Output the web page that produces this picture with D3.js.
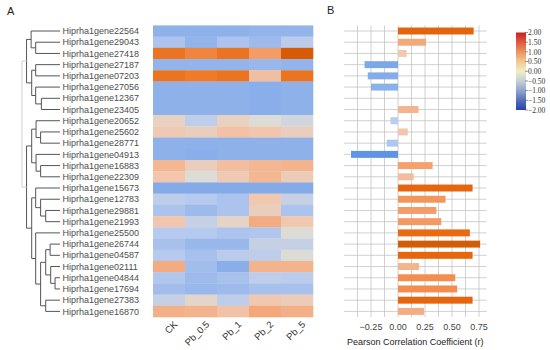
<!DOCTYPE html>
<meta charset="utf-8">
<style>
  body { margin: 0; background: #fff; }
  svg { font-family: "Liberation Sans", Arial, sans-serif; }
  .gene { font-size: 9px; fill: #4d4d4d; }
  .sample { font-size: 9.5px; fill: #333; }
  .dend { fill: none; stroke: #555; stroke-width: 1px; }
  .dend.root { stroke: #cfcfcf; }
  .grid line { stroke: #c4c4c4; stroke-width: 0.8px; }
  .tick-lab { font-size: 9px; fill: #444; }
  .legend text { font-family: "Liberation Serif", "DejaVu Serif", serif; font-size: 7.5px; fill: #333; }
</style>
<svg width="550" height="350"></svg>
<script src="https://cdn.jsdelivr.net/npm/d3@7"></script>
<script>
  // row order as shown (top -> bottom)
  const genes = [
    "Hiprha1gene22564", "Hiprha1gene29043", "Hiprha1gene27418", "Hiprha1gene27187",
    "Hiprha1gene07203", "Hiprha1gene27056", "Hiprha1gene12367", "Hiprha1gene23405",
    "Hiprha1gene20652", "Hiprha1gene25602", "Hiprha1gene28771", "Hiprha1gene04913",
    "Hiprha1gene16883", "Hiprha1gene22309", "Hiprha1gene15673", "Hiprha1gene12783",
    "Hiprha1gene29881", "Hiprha1gene21993", "Hiprha1gene25500", "Hiprha1gene26744",
    "Hiprha1gene04587", "Hiprha1gene02111", "Hiprha1gene04844", "Hiprha1gene17694",
    "Hiprha1gene27383", "Hiprha1gene16870"
  ];
  const samples = ["CK", "Pb_0.5", "Pb_1", "Pb_2", "Pb_5"];

  // scaled expression, one row per gene (CK, Pb_0.5, Pb_1, Pb_2, Pb_5)
  const expr = [
    [-0.9, -0.9, -0.9, -0.85, -0.85],
    [-0.6, -0.85, -0.6, -0.75, -0.45],
    [1.6, 1.35, 1.6, 1.05, 2.0],
    [-0.85, -0.85, -0.85, -0.8, -0.85],
    [1.6, 1.5, 1.6, 0.6, 1.6],
    [-0.9, -0.9, -0.9, -0.95, -0.9],
    [-0.9, -0.9, -0.9, -0.95, -0.9],
    [-0.9, -0.9, -0.9, -0.95, -0.9],
    [0.25, -0.4, 0.25, 0.0, -0.15],
    [0.4, 0.3, 0.55, 0.5, 0.3],
    [-0.9, -0.9, -0.9, -0.9, -0.9],
    [-0.9, -0.95, -0.9, -0.9, -0.9],
    [0.7, 0.3, 0.6, 0.7, 0.75],
    [0.5, 0.0, 0.4, 0.7, 0.35],
    [-1.0, -1.0, -1.0, -1.0, -1.0],
    [-0.4, -0.5, -0.6, 0.45, -0.3],
    [-0.6, -0.75, -0.6, 0.3, -0.6],
    [0.5, -0.3, 0.2, 0.85, 0.45],
    [-0.5, -0.5, -0.6, -0.55, 0.0],
    [-0.65, -0.8, -0.8, -0.3, -0.3],
    [-0.5, -0.65, -0.45, -0.4, 0.0],
    [0.85, -0.7, -0.95, 0.75, 0.75],
    [-0.55, -0.75, -0.65, -0.4, -0.45],
    [-0.7, -0.8, -0.75, -0.65, -0.65],
    [-0.3, 0.15, -0.4, 0.45, 0.35],
    [0.8, 0.75, 0.55, 0.9, 0.8]
  ];

  // Pearson r per gene
  const pearson = [
    0.70, 0.26, 0.08, -0.31, -0.28, -0.25, 0.01, 0.19, -0.07, 0.09, -0.105, -0.435, 0.32,
    0.145, 0.69, 0.44, 0.355, 0.40, 0.665, 0.76, 0.69, 0.195, 0.53, 0.547, 0.69, 0.24
  ];
  const barTicks = [-0.25, 0, 0.25, 0.5, 0.75];
  const legendTicks = [2, 1.5, 1, 0.5, 0, -0.5, -1, -1.5, -2];

  // dendrogram: [left, right, height], leaves are row indices
  const tree = [
    [[0, [1, 2, 6.4], 7.6], [[3, 4, 6.4], [5, [6, 7, 4.9], 6.4], 7.45], 8.8],
    [
      [[8, [9, 10, 5.1], 6.3], [11, [12, 13, 5.1], 6.3], 7.45],
      [[14, [15, [16, 17, 3.76], 5.1], 6.4],
       [18, [[[19, 20, 2.6], [21, [22, 23, 1.3], 2.45], 3.76], [24, 25, 3.76], 5.1], 6.4], 7.45],
      8.8
    ],
    10
  ];

  const svg = d3.select("svg");

  const y = d3.scaleBand().domain(genes).range([25.4, 317]);
  const xHeat = d3.scaleBand().domain(samples).range([153, 313]);
  const xBar = d3.scaleLinear().domain([-0.5, 0.82]).range([344, 486.6]);
  const xDend = d3.scaleLinear().domain([0, 10]).range([60, 22]);

  const heatColor = d3.scaleLinear()
    .domain([-1, -0.5, 0, 0.5, 1, 1.5, 2])
    .range(["#84abe8", "#b6c9ee", "#dddbd6", "#f2c6ac", "#f4a06e", "#f07a2a", "#d65b04"]);
  const barColor = d3.scaleLinear()
    .domain([-0.45, -0.05, 0, 0.05, 0.3, 0.55, 0.65, 0.77])
    .range(["#5a92e2", "#bcd0f0", "#f4e0dc", "#f4ccb8", "#f4a272", "#f38c4e", "#ef6b12", "#d05c06"]);
  const legendColor = d3.scaleLinear()
    .domain([-2, -1.5, -1, -0.5, 0, 0.5, 1, 1.5, 2])
    .range(["#2a40b0", "#5570b8", "#8ea6cc", "#c6d0d6", "#f0eec4", "#f2c890", "#ea9462", "#de5a3e", "#cc1f24"]);

  // panel labels
  svg.append("text").attr("x", 7).attr("y", 15).style("font-size", "11px").attr("fill", "#222").text("A");
  svg.append("text").attr("x", 327).attr("y", 14).style("font-size", "11px").attr("fill", "#222").text("B");

  // ---- dendrogram
  const dg = svg.append("g");
  function draw(node, isRoot) {
    if (typeof node === "number") return { y: y(genes[node]) + y.bandwidth() / 2, h: 0 };
    const a = draw(node[0], false), b = draw(node[1], false), h = node[2];
    const cls = isRoot ? "dend root" : "dend";
    [a, b].forEach(c => {
      dg.append("path").attr("class", cls)
        .attr("d", "M" + xDend(c.h) + "," + c.y + "H" + xDend(h));
    });
    dg.append("path").attr("class", cls)
      .attr("d", "M" + xDend(h) + "," + a.y + "V" + b.y);
    return { y: (a.y + b.y) / 2, h: h };
  }
  draw(tree, true);

  // gene labels
  svg.selectAll(".gene").data(genes).enter().append("text")
    .attr("class", "gene")
    .attr("x", 62.5)
    .attr("y", d => y(d) + y.bandwidth() / 2)
    .attr("dy", "0.35em")
    .text(d => d);

  // ---- heatmap
  const cells = [];
  expr.forEach((row, i) => row.forEach((v, j) => cells.push({ g: genes[i], s: samples[j], v: v })));
  svg.append("g").selectAll("rect").data(cells).enter().append("rect")
    .attr("x", d => xHeat(d.s))
    .attr("y", d => y(d.g))
    .attr("width", xHeat.bandwidth() + 0.3)
    .attr("height", y.bandwidth() + 0.3)
    .attr("fill", d => heatColor(d.v));

  svg.selectAll(".sample").data(samples).enter().append("text")
    .attr("class", "sample")
    .attr("text-anchor", "end")
    .attr("transform", d => "translate(" + (xHeat(d) + xHeat.bandwidth() / 2 + 9) + ",325) rotate(-45)")
    .text(d => d);

  // ---- bar chart
  const grid = svg.append("g").attr("class", "grid");
  const vLines = d3.range(-0.375, 0.76, 0.125);
  grid.selectAll(".v").data(vLines).enter().append("line")
    .attr("x1", d => xBar(d)).attr("x2", d => xBar(d))
    .attr("y1", 25.4).attr("y2", 317);
  grid.selectAll(".h").data(genes).enter().append("line")
    .attr("x1", xBar.range()[0]).attr("x2", xBar.range()[1])
    .attr("y1", d => y(d) + y.bandwidth() / 2).attr("y2", d => y(d) + y.bandwidth() / 2);

  const barH = y.bandwidth() * 0.62;
  svg.append("g").selectAll("rect").data(pearson).enter().append("rect")
    .attr("x", d => xBar(Math.min(0, d)))
    .attr("width", d => Math.abs(xBar(d) - xBar(0)))
    .attr("y", (d, i) => y(genes[i]) + (y.bandwidth() - barH) / 2)
    .attr("height", barH)
    .attr("fill", d => barColor(d));

  svg.selectAll(".tick-lab").data(barTicks).enter().append("text")
    .attr("class", "tick-lab")
    .attr("x", d => xBar(d))
    .attr("y", 330)
    .attr("text-anchor", "middle")
    .text(d => d3.format(".2f")(d).replace("-", "\u2212"));

  svg.append("text")
    .attr("x", (xBar.range()[0] + xBar.range()[1]) / 2)
    .attr("y", 345)
    .attr("text-anchor", "middle")
    .style("font-size", "9px")
    .attr("fill", "#222")
    .text("Pearson Correlation Coefficient (r)");

  // ---- colour legend
  const ly = d3.scaleLinear().domain([2, -2]).range([32.5, 110]);
  const defs = svg.append("defs");
  const grad = defs.append("linearGradient").attr("id", "lg")
    .attr("x1", 0).attr("y1", 0).attr("x2", 0).attr("y2", 1);
  grad.selectAll("stop").data(legendColor.domain().slice().reverse()).enter().append("stop")
    .attr("offset", (d, i, a) => i / (a.length - 1))
    .attr("stop-color", d => legendColor(d));
  const lg = svg.append("g").attr("class", "legend");
  lg.append("rect").attr("x", 516).attr("y", ly(2)).attr("width", 10)
    .attr("height", ly(-2) - ly(2)).attr("fill", "url(#lg)");
  lg.selectAll("line").data(legendTicks).enter().append("line")
    .attr("x1", 525).attr("x2", 528)
    .attr("y1", d => ly(d)).attr("y2", d => ly(d))
    .attr("stroke", "#555").attr("stroke-width", 0.6);
  lg.selectAll("text").data(legendTicks).enter().append("text")
    .attr("x", 528)
    .attr("y", d => ly(d))
    .attr("dy", "0.35em")
    .text(d => d3.format(".2f")(d));
</script>
